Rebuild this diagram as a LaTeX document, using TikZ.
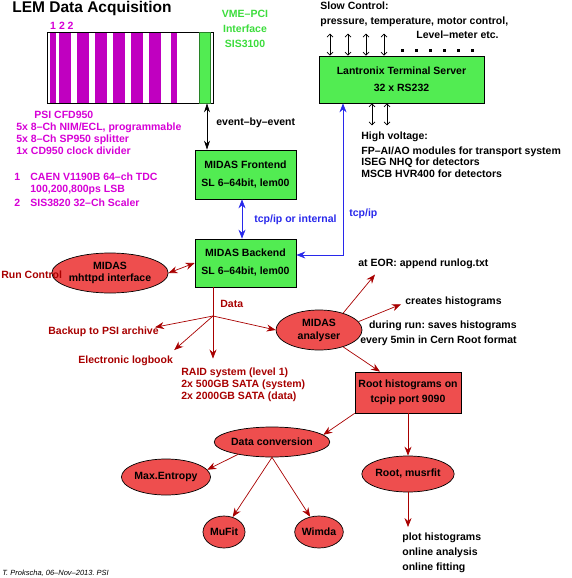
\documentclass[tikz,border=0pt]{standalone}
\usepackage{fontspec}
\setmainfont{Liberation Sans}
\usetikzlibrary{shapes.geometric,arrows.meta}
\frenchspacing
\definecolor{boxgreen}{RGB}{82,236,82}
\definecolor{modedge}{RGB}{40,130,40}
\definecolor{txtgreen}{RGB}{60,220,60}
\definecolor{modmag}{RGB}{192,0,192}
\definecolor{txtmag}{RGB}{214,0,214}
\definecolor{ovalred}{RGB}{238,78,78}
\definecolor{darkred}{RGB}{168,0,0}
\definecolor{linkblue}{RGB}{40,40,235}
\newcommand\fsz[1]{\bfseries\fontsize{10.5}{#1}\selectfont}
\tikzset{
  txt/.style={inner sep=0pt,anchor=base west,align=left},
  box/.style={draw,fill=boxgreen,align=center,minimum width=101pt,minimum height=49pt,font=\fsz{18}},
  redbox/.style={draw,fill=ovalred,align=center},
  oval/.style={ellipse,draw,fill=ovalred,inner sep=0pt,align=center},
  redarr/.style={draw=darkred,-{Stealth[length=9pt,width=7pt,inset=3pt]}},
  redboth/.style={draw=darkred,{Stealth[length=9pt,width=7pt,inset=3pt]}-{Stealth[length=9pt,width=7pt,inset=3pt]}},
  bluearr/.style={draw=linkblue,{Stealth[length=9pt,width=7pt,inset=3pt]}-{Stealth[length=9pt,width=7pt,inset=3pt]}},
  sigarr/.style={{Straight Barb[length=3pt,width=6pt]}-{Straight Barb[length=3pt,width=6pt]}}
}
\begin{document}
\begin{tikzpicture}[x=1pt,y=-1pt,font=\fsz{12},line width=.7pt]
\useasboundingbox (0,0) rectangle (571,578);
\node[txt,font=\bfseries\fontsize{15.5}{18}\selectfont] (title) at (12,13) {LEM Data Acquisition};
% VME crate
\foreach \x in {50,59,65,77,83,95,101,113,119,131,137,149,155,171}{\fill[modmag] (\x,32.5) rectangle (\x+6,102.5);}
\node[draw,minimum width=166pt,minimum height=71pt,inner sep=0pt] (crate) at (130,67.5) {};
\node[draw=modedge,fill=boxgreen,minimum width=11pt,minimum height=71pt,inner sep=0pt] (vme) at (204.5,67.5) {};
\foreach \x/\n in {53/1,62/2,70.5/2}{\node[txtmag,anchor=base,inner sep=0pt] at (\x,30) {\n};}
\node[txt,txtgreen,align=center,anchor=base,font=\fsz{15}] (vmetxt) at (245,48) {VME--PCI\\Interface\\SIS3100};
\node[txt,txtmag] (cfd) at (16,154) {\hspace*{18pt}PSI CFD950\\5x 8--Ch NIM/ECL, programmable\\5x 8--Ch SP950 splitter\\1x CD950 clock divider};
\node[txt,txtmag] (n1) at (14,180) {1};\node[txt,txtmag,font=\fsz{12.5}] (tdc) at (30,192.5) {CAEN V1190B 64--ch TDC\\100,200,800ps LSB};
\node[txt,txtmag] (n2) at (14,206.5) {2};\node[txt,txtmag] (scaler) at (30,206.5) {SIS3820 32--Ch Scaler};
% slow control
\node[txt] (slow) at (320,9.5) {Slow Control:};
\node[txt] (press) at (320,24.5) {pressure, temperature, motor control,};
\node[txt] (level) at (416,38.5) {Level--meter etc.};
\node[box,minimum width=165pt,minimum height=47pt,font=\fsz{17}] (lan) at (401.5,79.5) {Lantronix Terminal Server\\32 x RS232};
\foreach \dx in {-71.5,-53.5,-35.5,-17.5}{\draw[sigarr] ([xshift=\dx pt]lan.north) -- ++(0,-22);}
\foreach \x in {401,415,...,471}{\fill (\x,49.5) rectangle (\x+3,52.5);}
\foreach \dx in {-29.5,-14.5}{\draw[sigarr] ([xshift=\dx pt]lan.south) -- ++(0,22);}
\node[txt] (hv) at (361,139.5) {High voltage:};
\node[txt,font=\fsz{11.5}] (hvlist) at (361,177) {FP--AI/AO modules for transport system\\ISEG NHQ for detectors\\MSCB HVR400 for detectors};
% MIDAS
\node[box] (fe) at (245.5,174.5) {MIDAS Frontend\\SL 6--64bit, lem00};
\node[box,minimum height=48pt] (be) at (245.5,263) {MIDAS Backend\\SL 6--64bit, lem00};
\draw[{Stealth[length=9pt,width=6pt,inset=3pt]}-{Stealth[length=9pt,width=6pt,inset=3pt]}] ([xshift=2.5pt]vme.south) -- ([xshift=2.5pt]vme.south |- fe.north);
\node[txt] (ev) at (216,125) {event--by--event};
\draw[bluearr] ([xshift=-3.5pt]fe.south) -- ([xshift=-3.5pt]be.north);
\node[txt,linkblue] (tcpint) at (254,222) {tcp/ip or internal};
\draw[bluearr] ([yshift=8pt]be.east) -| ([xshift=-58.5pt]lan.south);
\node[txt,linkblue] (tcp) at (349,216) {tcp/ip};
\node[oval,minimum width=86pt,minimum height=40pt] (mhttpd) at (110,273) {MIDAS\\mhttpd interface};
\node[txt,darkred] (runctl) at (1,278) {Run Control};
\draw[redboth] (mhttpd.east) -- (be.west);
% data paths
\coordinate (hub) at (213,316);
\draw[darkred] ([xshift=-32.5pt]be.south) -- (hub);
\node[txt,darkred] (data) at (220,307) {Data};
\node[txt,darkred] (backup) at (48,334) {Backup to PSI archive};
\node[txt,darkred] (logbook) at (78,363) {Electronic logbook};
\node[txt,darkred] (raid) at (181,399.5) {RAID system (level 1)\\2x 500GB SATA (system)\\2x 2000GB SATA (data)};
\draw[redarr] (hub) -- ([xshift=-4pt,yshift=4pt]backup.east);
\draw[redarr] (hub) -- ([xshift=1pt,yshift=5pt]logbook.north east);
\draw[redarr,shorten >=9pt] (hub) -- (hub |- raid.north);
\node[oval,minimum width=86pt,minimum height=40pt,font=\fsz{13}] (ana) at (319,330) {MIDAS\\analyser};
\draw[redarr] (hub) -- (ana.west);
\node[txt] (eor) at (358,266) {at EOR: append runlog.txt};
\node[txt] (creates) at (405,304) {creates histograms};
\node[txt,anchor=base east,align=right,font=\fsz{15}] (saves) at (517,343) {during run: saves histograms\\every 5min in Cern Root format};
\draw[redarr] (ana.35) -- ([xshift=17pt,yshift=-6pt]eor.south west);
\draw[redarr] (ana.12) -- ([xshift=-4pt,yshift=-3pt]creates.west);
\node[redbox,minimum width=106pt,minimum height=41pt,font=\fsz{15}] (roothist) at (408,392.5) {Root histograms on\\tcpip port 9090};
\draw[redarr] (ana.-35) -- ([xshift=-28pt]roothist.north);
% analysis
\node[oval,minimum width=88pt,minimum height=30pt] (datconv) at (272,442) {Data conversion};
\node[oval,minimum width=72pt,minimum height=36pt] (rootmus) at (408,474) {Root, musrfit};
\node[oval,minimum width=68pt,minimum height=36pt] (maxent) at (166,477) {Max.Entropy};
\node[oval,minimum width=42pt,minimum height=32pt] (mufit) at (224,532) {MuFit};
\node[oval,minimum width=40pt,minimum height=32pt] (wimda) at (319,532) {Wimda};
\node[txt,font=\fsz{15}] (plot) at (402,570) {plot histograms\\online analysis\\online fitting};
\draw[redarr] (roothist.south west) -- (datconv.8);
\draw[redarr] (roothist.south) -- (rootmus.north);
\draw[redarr,shorten >=5pt] (rootmus.south) -- (rootmus.south |- plot.north);
\draw[redarr] (datconv.200) -- (maxent.10);
\draw[redarr] (datconv.south) -- (mufit.60);
\draw[redarr] (datconv.south) -- (wimda.120);
\node[txt,font=\itshape\fontsize{7.5}{9}\selectfont] (credit) at (2,575) {T. Prokscha, 06--Nov--2013. PSI};
\end{tikzpicture}
\end{document}
